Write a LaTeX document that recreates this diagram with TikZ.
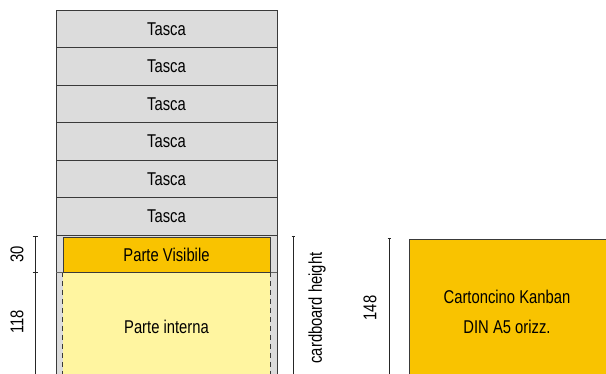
\documentclass[tikz,border=0pt]{standalone}
\usepackage{fontspec}
\setmainfont{Liberation Sans}[FakeStretch=0.8]
\definecolor{tascagray}{HTML}{DCDCDC}
\definecolor{visorange}{HTML}{F9C300}
\definecolor{intyellow}{HTML}{FFF5A0}
\definecolor{edgegray}{HTML}{3A3A3A}
\begin{document}
\begin{tikzpicture}[x=1pt,y=-1pt,
  every node/.style={font=\fontsize{18.5}{22}\selectfont, text=black},
  tascabox/.style={draw=edgegray, line width=0.9pt, fill=tascagray, minimum width=221pt, minimum height=37.5pt, inner sep=0pt},
  dimline/.style={draw=black!85, line width=0.8pt},
  dimlabel/.style={rotate=90, inner sep=0pt}]
\useasboundingbox (0,0) rectangle (606,374);
% gray holder behind the card
\fill[tascagray] (56,235) rectangle (277,374);
\draw[edgegray, line width=0.9pt] (56,235) -- (56,374) (277,235) -- (277,374);
% pockets
\foreach \i/\y in {1/28.75,2/66.25,3/103.75,4/141.25,5/178.75,6/216.25}{
  \node[tascabox] (t\i) at (166.5,\y) {Tasca};
}
% inner part
\node[fill=intyellow, minimum width=207pt, minimum height=102pt, inner sep=0pt, anchor=north] (pi) at (166.5,272) {};
\node at (166.5,327) {Parte interna};
\draw[edgegray, line width=0.9pt, dash pattern=on 5pt off 4pt] (pi.north west) -- (pi.south west) (pi.north east) -- (pi.south east);
\draw[edgegray!80, line width=0.9pt] (56,272) -- (277,272);
% visible part
\node[draw=edgegray, line width=0.9pt, fill=visorange, minimum width=207pt, minimum height=35pt, inner sep=0pt] (pv) at (166.5,254.5) {Parte Visibile};
% left dimension
\coordinate (la) at (35,236);
\coordinate (lb) at (35,272);
\coordinate (lc) at (35,374);
\draw[dimline] (la) -- (lc);
\draw[dimline] ([xshift=-2.5pt]la) -- ([xshift=2.5pt]la);
\draw[dimline] ([xshift=-2.5pt]lb) -- ([xshift=2.5pt]lb);
\node[dimlabel] (d30) at (17,254) {30};
\node[dimlabel] (d118) at (17,322) {118};
% cardboard height
\coordinate (ca) at (293,236);
\coordinate (cb) at (293,374);
\draw[dimline] (ca) -- (cb);
\draw[dimline] ([xshift=-1.5pt]ca) -- ([xshift=1.5pt]ca);
\node[dimlabel] (ch) at (317,308) {cardboard height};
% 148
\coordinate (ka) at (389,238);
\coordinate (kb) at (389,374);
\draw[dimline] (ka) -- (kb);
\draw[dimline] ([xshift=-1.5pt]ka) -- ([xshift=1.5pt]ka);
\node[dimlabel] (d148) at (370,308) {148};
% kanban card
\draw[edgegray, line width=0.9pt, fill=visorange] (409,390) -- (409,239) -- (620,239) -- (620,390) -- cycle;
\node (k1) at (507,297) {Cartoncino Kanban};
\node (k2) at (507,327) {DIN A5 orizz.};
\end{tikzpicture}
\end{document}
